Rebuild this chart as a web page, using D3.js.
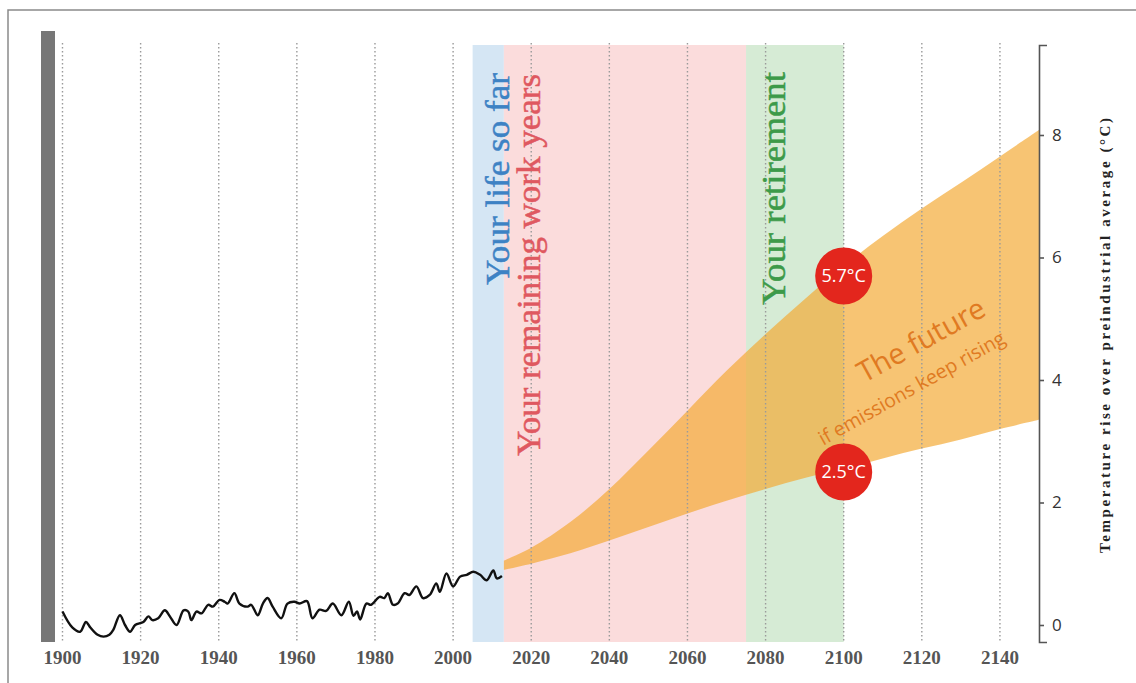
<!DOCTYPE html>
<html><head><meta charset="utf-8">
<script src="https://cdn.jsdelivr.net/npm/d3@7"></script>
<style>
html,body{margin:0;padding:0;background:#fff;}
svg{display:block;}
</style></head>
<body>
<svg id="chart" width="1136" height="683"></svg>
<script>
// ---- data ----
const gridYears = [1900,1920,1940,1960,1980,2000,2020,2040,2060,2080,2100,2120,2140];
const yTicks = [0,2,4,6,8];
const histYears = [1900,1902.5,1904.5,1906,1907,1909,1910.5,1912,1913,1914.7,1916,1917.3,1918.6,1920.7,1922,1923,1924.5,1926.2,1927.5,1929.2,1931,1932.2,1933,1934.3,1935.6,1937.3,1938.5,1940.2,1941.5,1942.3,1944,1945.3,1947.4,1948.3,1950,1951.3,1952.5,1953.8,1956,1957.6,1959.4,1960.7,1962.6,1964,1965.8,1967.5,1969.2,1971.4,1973.3,1974.5,1975.4,1976.2,1977.8,1979,1981.2,1982.4,1983.3,1984.6,1985.8,1987.6,1988.8,1990.6,1992.3,1994,1995.7,1996.6,1998.3,2000,2001.8,2003.5,2005.2,2006.9,2008.6,2010.3,2011.2,2012.5];
const histTemp = [0.22,-0.04,-0.11,0.05,-0.03,-0.16,-0.19,-0.16,-0.08,0.16,0.0,-0.11,0.0,0.05,0.14,0.08,0.11,0.24,0.14,0.0,0.24,0.22,0.08,0.22,0.19,0.33,0.3,0.41,0.38,0.35,0.52,0.35,0.3,0.33,0.16,0.35,0.44,0.3,0.11,0.35,0.38,0.35,0.39,0.11,0.25,0.23,0.35,0.16,0.38,0.15,0.22,0.09,0.35,0.33,0.46,0.44,0.52,0.33,0.35,0.52,0.49,0.63,0.44,0.49,0.68,0.54,0.84,0.63,0.79,0.82,0.87,0.82,0.73,0.89,0.76,0.80];
const futureYears = [2013,2020,2030,2040,2050,2060,2070,2080,2090,2100,2110,2120,2130,2140,2150];
const futureHigh = [1.05,1.26,1.68,2.22,2.85,3.5,4.15,4.75,5.32,5.86,6.35,6.8,7.22,7.65,8.08];
const futureLow  = [0.9,1.0,1.17,1.38,1.6,1.82,2.03,2.22,2.4,2.55,2.72,2.88,3.03,3.2,3.35];
const bandNames = ["Your life so far","Your remaining work years","Your retirement"];
const bandStart = [2005,2013,2075];
const bandEnd   = [2013,2075,2100];
const markerYears = [2100,2100];
const markerValues = [5.7,2.5];
const markerLabels = ["5.7°C","2.5°C"];
const futureTitle = "The future";
const futureSub = "if emissions keep rising";
const yTitle = "Temperature rise over preindustrial average (°C)";

// ---- drawing ----
const svg = d3.select("#chart");
const x = d3.scaleLinear().domain([1900,2150]).range([62.5,1039]);
const y = d3.scaleLinear().domain([0,8]).range([625,135]);
const plotTop = 45, plotBottom = 642;

// frame
svg.append("path").attr("d","M8,683V10H1136").attr("fill","none").attr("stroke","#8a8a8a").attr("stroke-width",1.5);
// gray bar
svg.append("rect").attr("x",41).attr("y",31).attr("width",14).attr("height",611).attr("fill","#777");

// bands
const bandFill = ["#d5e6f4","#fbdcdc","#d6ebd5"];
const bandText = ["#3d82c4","#df5860","#3d9a49"];
svg.append("g").selectAll("rect").data(bandNames).join("rect")
  .attr("x",(d,i)=>x(bandStart[i]))
  .attr("width",(d,i)=>x(bandEnd[i])-x(bandStart[i]))
  .attr("y",plotTop).attr("height",plotBottom-plotTop)
  .attr("fill",(d,i)=>bandFill[i]);

// future area
const area = d3.area()
  .x((d,i)=>x(futureYears[i]))
  .y0((d,i)=>y(futureLow[i]))
  .y1((d,i)=>y(futureHigh[i]))
  .curve(d3.curveCatmullRom.alpha(0.5));
svg.append("path").datum(futureYears).attr("d",area)
  .attr("fill","rgb(243,168,48)").attr("fill-opacity",0.68);

// grid
svg.append("g").selectAll("line").data(gridYears).join("line")
  .attr("x1",d=>x(d)).attr("x2",d=>x(d))
  .attr("y1",43).attr("y2",plotBottom)
  .attr("stroke","#9a9a9a").attr("stroke-width",1.4).attr("stroke-dasharray","1.6,2.4");

// x labels
svg.append("g").selectAll("text").data(gridYears).join("text")
  .attr("x",d=>x(d)).attr("y",664)
  .attr("text-anchor","middle")
  .attr("font-family","Liberation Serif, serif").attr("font-weight","bold").attr("font-size",19)
  .attr("fill","#555").text(d=>d);

// historical line
const line = d3.line().x((d,i)=>x(histYears[i])).y((d,i)=>y(histTemp[i])).curve(d3.curveCatmullRom.alpha(0.5));
svg.append("path").datum(histYears).attr("d",line)
  .attr("fill","none").attr("stroke","#111").attr("stroke-width",2.4).attr("stroke-linejoin","round");

// band titles
const bandBase = [509,540,785];
const bandLen = [212,382,233];
svg.append("g").selectAll("text").data(bandNames).join("text")
  .attr("transform",(d,i)=>`translate(${bandBase[i]},${[285,456,305][i]}) rotate(-90)`)
  .attr("font-family","Liberation Serif, serif").attr("font-size",33)
  .attr("fill",(d,i)=>bandText[i]).attr("stroke",(d,i)=>bandText[i]).attr("stroke-width",0.5)
  .attr("textLength",(d,i)=>bandLen[i]).attr("lengthAdjust","spacingAndGlyphs")
  .text(d=>d);

// future labels
svg.append("text").attr("transform","translate(926,349) rotate(-29)")
  .attr("text-anchor","middle").attr("font-family","Open Sans, sans-serif").attr("font-size",29)
  .attr("fill","#e07a22").text(futureTitle);
svg.append("text").attr("transform","translate(915,394) rotate(-29.4)")
  .attr("text-anchor","middle").attr("font-family","Open Sans, sans-serif").attr("font-size",19.5)
  .attr("fill","#e07a22").text(futureSub);

// markers
const mk = svg.append("g").selectAll("g").data(markerLabels).join("g")
  .attr("transform",(d,i)=>`translate(${x(markerYears[i])},${y(markerValues[i])})`);
mk.append("circle").attr("r",28.5).attr("fill","#e3261d");
mk.append("text").attr("text-anchor","middle").attr("dy","0.36em")
  .attr("font-family","Open Sans, sans-serif").attr("font-size",18).attr("fill","#fff").text(d=>d);

// right axis
const yAxisScale = y.copy().domain([y.invert(plotBottom), y.invert(plotTop)]).range([plotBottom, plotTop]);
const axis = svg.append("g").attr("transform",`translate(${x(2150)},0)`)
  .call(d3.axisRight(yAxisScale).tickValues(yTicks).tickSize(5).tickSizeOuter(8).tickPadding(8).tickFormat(d3.format("d")));
axis.select(".domain").attr("stroke","#555").attr("stroke-width",1.6);
axis.selectAll(".tick line").attr("stroke","#555").attr("stroke-width",1.6);
axis.selectAll(".tick text").attr("font-family","Open Sans, sans-serif").attr("font-size",17).attr("fill","#333");

// y title
svg.append("text").attr("transform","translate(1110,553) rotate(-90)")
  .attr("font-family","Liberation Serif, serif").attr("font-weight","bold").attr("font-size",15)
  .attr("fill","#222").attr("textLength",435).attr("lengthAdjust","spacing").text(yTitle);
</script>
</body></html>
